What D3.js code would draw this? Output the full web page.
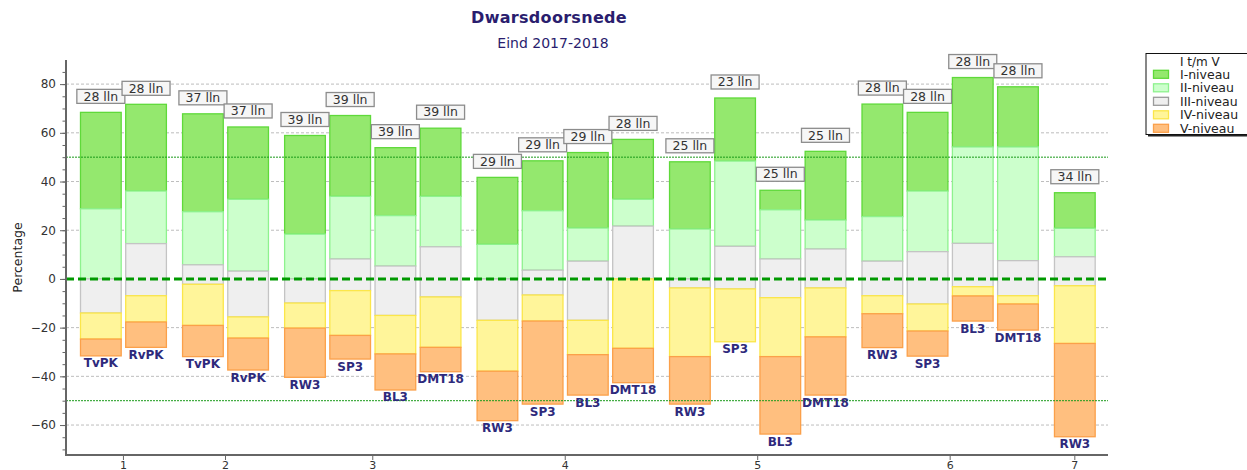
<!DOCTYPE html>
<html>
<head>
<meta charset="utf-8">
<script src="https://cdn.jsdelivr.net/npm/d3@7/dist/d3.min.js"></script>
<style>
  html, body { margin: 0; padding: 0; background: #fff; }
  svg { display: block; }
  text { font-family: "DejaVu Sans", Verdana, sans-serif; }
</style>
</head>
<body>
<svg id="chart" width="1247" height="470"></svg>
<script>
// ---- data ----
const groupLabels = ["1", "2", "3", "4", "5", "6", "7"];
const barGroup = [0,0, 1,1, 2,2,2,2, 3,3,3,3, 4,4,4,4, 5,5,5,5, 6];
const barNames = ["TvPK","RvPK","TvPK","RvPK","RW3","SP3","BL3","DMT18","RW3","SP3","BL3","DMT18","RW3","SP3","BL3","DMT18","RW3","SP3","BL3","DMT18","RW3"];
const barCounts = [28,28,37,37,39,39,39,39,29,29,29,28,25,23,25,25,28,28,28,28,34];
const barTop  = [68.4,71.7,67.8,62.4,58.9,67.1,53.9,61.9,41.7,48.5,51.9,57.3,48.1,74.3,36.4,52.4,71.8,68.4,82.7,78.9,35.4];
const levelI   = [39.6,35.6,40.2,29.7,40.5,33.2,27.9,28.0,27.5,20.5,31.0,24.6,27.6,25.9, 8.0,28.2,46.2,32.3,28.5,24.7,14.6];
const levelII  = [28.8,21.6,21.8,29.5,18.4,25.7,20.7,20.7,14.2,24.4,13.6,11.0,20.5,35.0,20.2,11.9,18.3,24.9,39.6,46.7,11.7];
const levelIII = [14.0,21.4, 8.0,18.8, 9.9,13.0,20.3,20.6,17.0,10.2,24.3,21.7, 3.7,17.5,15.9,16.0,14.2,21.5,17.8,14.4,11.9];
const levelIV  = [10.7,10.8,16.9, 8.7,10.3,18.4,15.8,20.7,20.9,10.7,14.1,28.5,28.2,21.7,24.2,20.1, 7.4,11.1, 3.8, 3.4,23.7];
const levelV   = [ 6.9,10.4,12.8,13.1,20.2, 9.7,14.8,10.0,20.3,34.1,16.6,14.1,19.5, 0.0,31.8,23.9,13.9,10.3,10.3,10.7,38.3];
const levelNames = ["I-niveau","II-niveau","III-niveau","IV-niveau","V-niveau"];
const yTicks = [-60,-40,-20,0,20,40,60,80];
const refLines = [50,-50];

// ---- styles ----
const fills   = ["#94e86e","#ccffcc","#efefef","#fff59a","#ffbf7f"];
const strokes = ["#5fd93a","#8ef28e","#c4c4c4","#fbe64a","#fba04a"];

const svg = d3.select("#chart");
const plot = {left: 66, right: 1108, top: 60, bottom: 455};

const y = d3.scaleLinear().domain([-72.3, 89.9]).range([plot.bottom, plot.top]);
const gapU = 0.258;
const unitPos = barGroup.map((g, i) => i + g * gapU);
const x = d3.scaleLinear().domain([0, 1]).range([80, 125.2]);
const barW = 41.7;

// gridlines
svg.append("g").selectAll("line").data(yTicks.filter(t => t !== 0)).join("line")
  .attr("x1", plot.left).attr("x2", plot.right)
  .attr("y1", d => y(d)).attr("y2", d => y(d))
  .attr("stroke", "#bdbdbd").attr("stroke-width", 1).attr("stroke-dasharray", "3,2");

// bars
const levels = [levelI, levelII, levelIII, levelIV, levelV];
const segs = [];
barNames.forEach((n, i) => {
  let cur = barTop[i];
  levels.forEach((arr, k) => {
    const v = arr[i];
    if (v > 0) segs.push({i, k, hi: cur, lo: cur - v});
    cur -= v;
  });
});
svg.append("g").selectAll("rect").data(segs).join("rect")
  .attr("x", d => x(unitPos[d.i]) + 0.5)
  .attr("width", barW - 1)
  .attr("y", d => y(d.hi))
  .attr("height", d => y(d.lo) - y(d.hi))
  .attr("fill", d => fills[d.k])
  .attr("stroke", d => strokes[d.k])
  .attr("stroke-width", 1.3);

// reference lines 50 / -50
svg.append("g").selectAll("line").data(refLines).join("line")
  .attr("x1", plot.left).attr("x2", plot.right)
  .attr("y1", d => y(d)).attr("y2", d => y(d))
  .attr("stroke", "#1a9a1a").attr("stroke-width", 1).attr("stroke-dasharray", "2,1");

// zero line
svg.append("line")
  .attr("x1", plot.left).attr("x2", plot.right)
  .attr("y1", y(0)).attr("y2", y(0))
  .attr("stroke", "#009900").attr("stroke-width", 3).attr("stroke-dasharray", "8,4");

// count boxes
const boxG = svg.append("g");
barNames.forEach((n, i) => {
  const cx = x(unitPos[i]) + barW / 2;
  const bb = y(barTop[i]) - 9;
  const g = boxG.append("g");
  g.append("rect").attr("x", cx - 24).attr("y", bb - 14).attr("width", 48).attr("height", 14)
    .attr("fill", "#f6f6f6").attr("stroke", "#8c8c8c").attr("stroke-width", 1.3);
  g.append("text").attr("x", cx).attr("y", bb - 2.8).attr("text-anchor", "middle")
    .attr("font-size", 12.5).attr("fill", "#333").text(barCounts[i] + " lln");
});

// bottom labels
svg.append("g").selectAll("text").data(barNames).join("text")
  .attr("x", (d, i) => x(unitPos[i]) + barW / 2)
  .attr("y", (d, i) => y(barTop[i] - levelI[i] - levelII[i] - levelIII[i] - levelIV[i] - levelV[i]) + 11.5)
  .attr("text-anchor", "middle").attr("font-size", 12).attr("font-weight", "bold")
  .attr("fill", "#2e2a7c").text(d => d);

// y axis
const yAxis = d3.axisLeft(y).tickValues(d3.range(-70, 90, 5)).tickSize(3.5).tickFormat("");
const yg = svg.append("g").attr("transform", `translate(${plot.left},0)`).call(yAxis);
yg.select(".domain").remove();
yg.selectAll(".tick line").attr("stroke", "#666");
const yMaj = d3.axisLeft(y).tickValues(yTicks).tickSize(6).tickPadding(4).tickFormat(d3.format("d"));
const ym = svg.append("g").attr("transform", `translate(${plot.left},0)`).call(yMaj);
ym.select(".domain").remove();
ym.selectAll(".tick line").attr("stroke", "#666");
ym.selectAll(".tick text").attr("font-family", "DejaVu Sans, sans-serif").attr("font-size", 12).attr("fill", "#333");
svg.append("line").attr("x1", plot.left).attr("x2", plot.left).attr("y1", plot.top).attr("y2", plot.bottom + 1)
  .attr("stroke", "#666").attr("stroke-width", 2);

// x axis
const groupCenters = groupLabels.map((g, gi) => {
  const idx = barGroup.map((b, i) => b === gi ? i : -1).filter(i => i >= 0);
  const l = x(unitPos[idx[0]]), r = x(unitPos[idx[idx.length - 1]]) + barW;
  return (l + r) / 2;
});
const xTickScale = d3.scaleOrdinal().domain(groupLabels).range(groupCenters);
const xg = svg.append("g").attr("transform", `translate(0,${plot.bottom})`);
xg.append("line").attr("x1", plot.left).attr("x2", plot.right).attr("stroke", "#666").attr("stroke-width", 2);
xg.selectAll("line.t").data(groupLabels).join("line").attr("class", "t")
  .attr("x1", d => xTickScale(d)).attr("x2", d => xTickScale(d)).attr("y1", 0).attr("y2", 5)
  .attr("stroke", "#666");
xg.selectAll("text").data(groupLabels).join("text")
  .attr("x", d => xTickScale(d)).attr("y", 13.5).attr("text-anchor", "middle")
  .attr("font-size", 11).attr("fill", "#333").text(d => d);

// y label
svg.append("text").attr("transform", `translate(22,${(plot.top + plot.bottom) / 2}) rotate(-90)`)
  .attr("text-anchor", "middle").attr("font-size", 12.5).attr("fill", "#222").text("Percentage");

// titles
svg.append("text").attr("x", 549).attr("y", 23).attr("text-anchor", "middle")
  .attr("font-size", 16).attr("font-weight", "bold").attr("letter-spacing", 0.3).attr("fill", "#2a1d6e").text("Dwarsdoorsnede");
svg.append("text").attr("x", 553).attr("y", 48).attr("text-anchor", "middle")
  .attr("font-size", 14).attr("fill", "#2a1d6e").text("Eind 2017-2018");

// legend
const lg = svg.append("g");
lg.append("rect").attr("x", 1148).attr("y", 55.5).attr("width", 120).attr("height", 81).attr("fill", "#222");
lg.append("rect").attr("x", 1146).attr("y", 53.5).attr("width", 120).attr("height", 81)
  .attr("fill", "#fff").attr("stroke", "#111").attr("stroke-width", 1);
lg.append("text").attr("x", 1180).attr("y", 65.5).attr("font-size", 12).attr("fill", "#222").text("I t/m V");
levelNames.forEach((n, k) => {
  const cy = 74.3 + k * 13.5;
  lg.append("rect").attr("x", 1153.5).attr("y", cy - 4).attr("width", 15).attr("height", 8)
    .attr("fill", fills[k]).attr("stroke", k === 2 ? "#9a9a9a" : strokes[k]).attr("stroke-width", 1.3);
  lg.append("text").attr("x", 1180).attr("y", cy + 4.3).attr("font-size", 12.5).attr("fill", "#222").text(n);
});
</script>
</body>
</html>
